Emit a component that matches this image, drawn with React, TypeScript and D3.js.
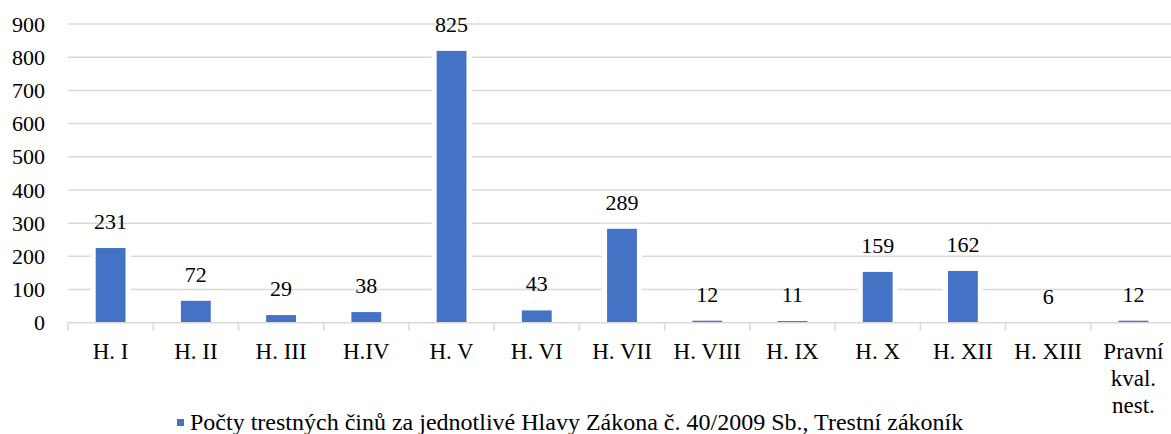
import React, { useEffect, useRef } from 'react';
import * as d3 from 'd3';

const categories = ['H. I', 'H. II', 'H. III', 'H.IV', 'H. V', 'H. VI', 'H. VII', 'H. VIII', 'H. IX', 'H. X', 'H. XII', 'H. XIII', 'Pravní\nkval.\nnest.'];
const values = [231, 72, 29, 38, 825, 43, 289, 12, 11, 159, 162, 6, 12];
const yTicks = [0, 100, 200, 300, 400, 500, 600, 700, 800, 900];
const seriesName = 'Počty trestných činů za jednotlivé Hlavy Zákona č. 40/2009 Sb., Trestní zákoník';

const App = () => {
    const svgRef = useRef<SVGSVGElement>(null);

    useEffect(() => {
        const svg = d3.select(svgRef.current);
        const width = 1171;
        const font = '"Liberation Serif", "Times New Roman", serif';

        svg.selectAll('*').remove();

        // skala pro kategorie (graf je vpravo oriznuty)
        const x = d3.scaleBand<string>()
            .domain(categories)
            .range([68, 1176])
            .paddingInner(0)
            .paddingOuter(0);

        const y = d3.scaleLinear()
            .domain([0, 900])
            .range([322.7, 24]);

        // mrizka
        svg.append('g')
            .selectAll('line')
            .data(yTicks.slice(1))
            .enter()
            .append('line')
            .attr('x1', 68)
            .attr('x2', width)
            .attr('y1', d => y(d))
            .attr('y2', d => y(d))
            .attr('stroke', '#d9d9d9')
            .attr('stroke-width', 1.5);

        // popisky osy Y
        svg.append('g')
            .selectAll('text')
            .data(yTicks)
            .enter()
            .append('text')
            .attr('x', 45)
            .attr('y', d => y(d))
            .attr('dy', '0.35em')
            .attr('text-anchor', 'end')
            .attr('font-family', font)
            .attr('font-size', 22)
            .attr('fill', '#000')
            .text(d => d);

        const bw = x.bandwidth() * 0.35;
        const data = categories.map((c, i) => ({ c, v: values[i] }));

        // bila mezera kolem sloupcu
        svg.append('g')
            .selectAll('rect')
            .data(data)
            .enter()
            .append('rect')
            .attr('x', d => x(d.c)! + x.bandwidth() / 2 - bw / 2 - 5)
            .attr('y', d => y(d.v) - 3)
            .attr('width', bw + 10)
            .attr('height', d => y(0) - y(d.v) + 3)
            .attr('fill', '#fff');

        // sloupce
        svg.append('g')
            .selectAll('rect')
            .data(data)
            .enter()
            .append('rect')
            .attr('x', d => x(d.c)! + x.bandwidth() / 2 - bw / 2)
            .attr('y', d => Math.min(y(d.v) + 2, y(0)))
            .attr('width', bw)
            .attr('height', d => Math.max(0, y(0) - y(d.v) - 2))
            .attr('fill', '#4472c4');

        // osa X
        svg.append('line')
            .attr('x1', 68)
            .attr('x2', width)
            .attr('y1', y(0))
            .attr('y2', y(0))
            .attr('stroke', '#d9d9d9')
            .attr('stroke-width', 1.5);

        svg.append('g')
            .selectAll('line')
            .data(categories)
            .enter()
            .append('line')
            .attr('x1', d => x(d)!)
            .attr('x2', d => x(d)!)
            .attr('y1', y(0))
            .attr('y2', y(0) + 8)
            .attr('stroke', '#d9d9d9')
            .attr('stroke-width', 1.5);

        // popisky hodnot
        svg.append('g')
            .selectAll('text')
            .data(data)
            .enter()
            .append('text')
            .attr('x', d => x(d.c)! + x.bandwidth() / 2)
            .attr('y', d => y(d.v) - 17)
            .attr('text-anchor', 'middle')
            .attr('font-family', font)
            .attr('font-size', 22)
            .attr('fill', '#000')
            .text(d => d.v);

        // popisky kategorii
        const labels = svg.append('g')
            .selectAll('text')
            .data(categories)
            .enter()
            .append('text')
            .attr('x', d => x(d)! + x.bandwidth() / 2)
            .attr('y', 359)
            .attr('text-anchor', 'middle')
            .attr('font-family', font)
            .attr('font-size', 23)
            .attr('fill', '#000');

        labels.selectAll('tspan')
            .data(d => d.split('\n').map(t => ({ t, cx: x(d)! + x.bandwidth() / 2 })))
            .enter()
            .append('tspan')
            .attr('x', d => d.cx)
            .attr('dy', (d, i) => (i === 0 ? 0 : 27))
            .text(d => d.t);

        // legenda
        svg.append('rect')
            .attr('x', 177)
            .attr('y', 419)
            .attr('width', 7)
            .attr('height', 7)
            .attr('fill', '#4472c4');

        svg.append('text')
            .attr('x', 190)
            .attr('y', 430)
            .attr('font-family', font)
            .attr('font-size', 24)
            .attr('fill', '#000')
            .text(seriesName);
    }, []);

    return (
        <svg
            ref={svgRef}
            width={1171}
            height={434}
            style={{ position: 'absolute', left: 0, top: 0, background: '#fff' }}
        ></svg>
    );
};

export default App;
